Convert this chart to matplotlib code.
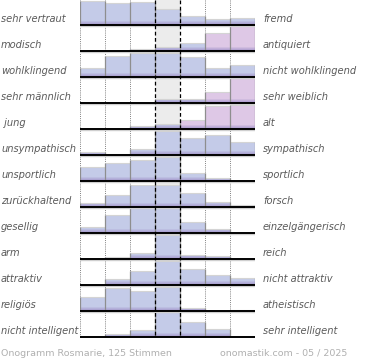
import matplotlib
matplotlib.use("Agg")
import matplotlib.pyplot as plt
import matplotlib.transforms as mtransforms
import numpy as np

left_labels = ["sehr vertraut", "modisch", "wohlklingend", "sehr männlich", " jung",
               "unsympathisch", "unsportlich", "zurückhaltend", "gesellig", "arm",
               "attraktiv", "religiös", "nicht intelligent"]
right_labels = ["fremd", "antiquiert", "nicht wohlklingend", "sehr weiblich", "alt",
                "sympathisch", "sportlich", "forsch", "einzelgängerisch", "reich",
                "nicht attraktiv", "atheistisch", "sehr intelligent"]

# bar heights per row, 7 steps (scale: 25 = full row)
r_vertraut     = [24, 22, 23.5, 16, 9, 6, 7.5]
r_modisch      = [0, 0.5, 1.7, 3.7, 7.7, 17.7, 25]
r_wohlklingend = [9.5, 21, 24, 24, 20, 9.5, 12]
r_maennlich    = [0, 0, 0, 3.7, 4.3, 11, 24.7]
r_jung         = [0, 0, 2.7, 4.7, 8.7, 23, 24]
r_sympathisch  = [3, 1.3, 6.3, 23.7, 17.3, 20.3, 13]
r_sportlich    = [13.7, 17.7, 20.7, 24.3, 7.7, 2.7, 0]
r_forsch       = [4, 11.7, 22, 22, 14, 5, 1.7]
r_gesellig     = [5.8, 17.8, 25, 25, 10.7, 4, 0]
r_arm          = [0, 1.7, 6.5, 23.7, 4.5, 2.8, 0]
r_attraktiv    = [0, 6.3, 14.3, 24.5, 15.7, 9.7, 7]
r_religioes    = [13.7, 22.7, 20.3, 24.3, 3.5, 0.3, 1.3]
r_intelligent  = [0, 3, 7.3, 25, 14.7, 8, 0]

rows = [r_vertraut, r_modisch, r_wohlklingend, r_maennlich, r_jung, r_sympathisch,
        r_sportlich, r_forsch, r_gesellig, r_arm, r_attraktiv, r_religioes, r_intelligent]

# bars drawn in the pink tone (row, column)
pink_bars = [(1, 5), (1, 6), (3, 5), (3, 6), (4, 5), (4, 6), (4, 4)]

footer_left = "Onogramm Rosmarie, 125 Stimmen"
footer_right = "onomastik.com - 05 / 2025"

W, H = 370, 360
fig = plt.figure(figsize=(W / 100, H / 100), dpi=100)
fig.patch.set_facecolor("white")

row_h = 26
n_rows = len(rows)
n_cols = 7
ax_bottom = n_rows * row_h  # 338 px
ax = fig.add_axes([80 / W, 1 - ax_bottom / H, 175 / W, ax_bottom / H])
ax.set_xlim(0, n_cols)
ax.set_ylim(ax_bottom, 0)
ax.axis("off")

blue = np.array([196, 203, 232]) / 255
pink = np.array([222, 200, 230]) / 255
purple = np.array([160, 145, 200]) / 255

# centre column background
ax.axvspan(3, 4, color="#ececec", zorder=0, lw=0)

for i, vals in enumerate(rows):
    base = row_h * i + 25
    for j, v in enumerate(vals):
        if v <= 0:
            continue
        col = pink if (i, j) in pink_bars else blue
        ax.bar(j, -v, bottom=base, width=1, align="edge", color=col, lw=0, zorder=2)
        # darker bottom band (gradient)
        band = min(v, 4)
        nb = 4
        for k in range(nb):
            t = (k + 1) / nb
            c = col * (1 - t * 0.9) + purple * (t * 0.9)
            hh = band * (1 - k / nb)
            ax.bar(j, -hh, bottom=base, width=1, align="edge", color=c, lw=0, zorder=2.1)
        # top edge
        ax.plot([j, j + 1], [base - v, base - v], color="#d4d4d4", lw=0.8, zorder=2.3,
                solid_capstyle="butt")
    # side lines between bars
    for j in range(n_cols + 1):
        lh = vals[j - 1] if j > 0 else 0
        rh = vals[j] if j < n_cols else 0
        h = max(lh, rh)
        if h > 0:
            ax.plot([j, j], [base, base - h], color="#8e8e8e", lw=0.9, zorder=2.4,
                    solid_capstyle="butt")
    # baseline
    ax.plot([0, n_cols], [base + 1.2, base + 1.2], color="#cfcfcf", lw=1.0, zorder=2.5)
    ax.plot([0, n_cols], [base, base], color="black", lw=1.4, zorder=3)

# grid lines
for j in [0, 1, 2, 5, 6, 7]:
    ax.plot([j, j], [0, ax_bottom], color="#808080", lw=0.7, ls=(0, (1, 1.2)), zorder=1.5)
for j in [3, 4]:
    ax.plot([j, j], [0, ax_bottom], color="black", lw=0.9, ls=(0, (3, 2)), zorder=3.5)

tr = mtransforms.blended_transform_factory(fig.transFigure, ax.transData)
for i in range(n_rows):
    y = row_h * i + 25 - 5.5
    fig.text(1 / W, y, left_labels[i], transform=tr, fontsize=7.1, style="italic",
             color="#5a5a5a", va="center", ha="left")
    fig.text(263 / W, y, right_labels[i], transform=tr, fontsize=7.1, style="italic",
             color="#5a5a5a", va="center", ha="left")

fig.text(1 / W, 1 - 353 / H, footer_left, fontsize=6.8, color="#b0b0b0", va="center", ha="left")
fig.text(347 / W, 1 - 353 / H, footer_right, fontsize=6.8, color="#b0b0b0", va="center", ha="right")

fig.savefig("out.png", dpi=100, facecolor="white")
